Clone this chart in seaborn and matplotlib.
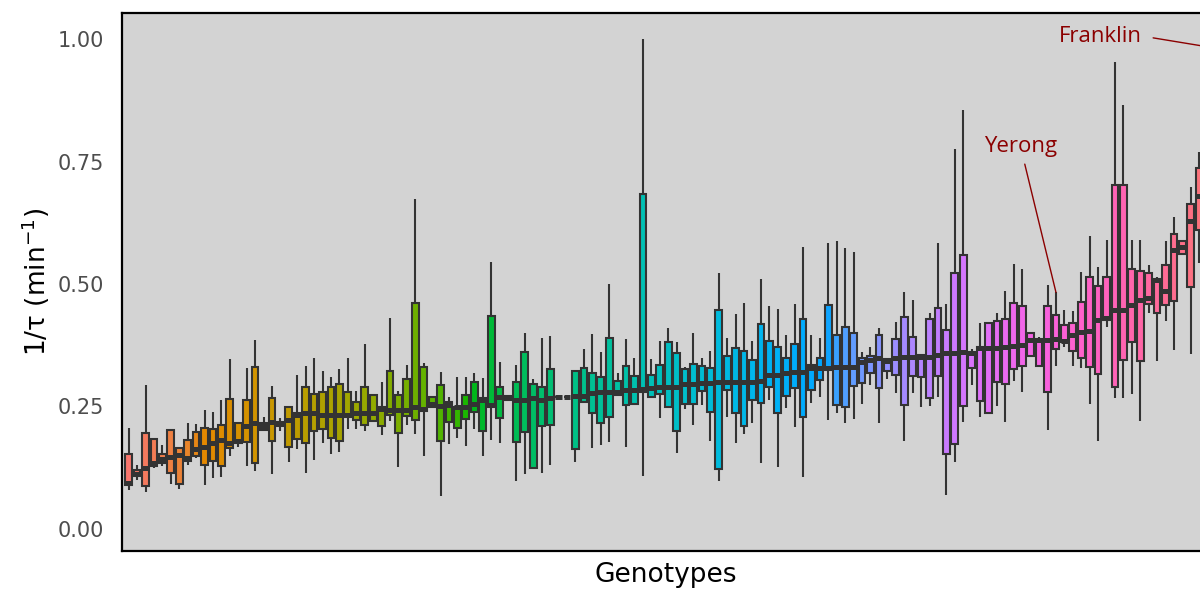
import numpy as np
import pandas as pd
import matplotlib
matplotlib.use("Agg")
import matplotlib.pyplot as plt
import seaborn as sns

# ---------------- data ----------------
whisker_low = [
    .080, .100, .075, .124, .129, .091, .081, .131, .145, .090,
    .105, .107, .148, .167, .129, .119, .203, .112, .199, .136,
    .163, .115, .141, .175, .154, .158, .205, .205, .199, .221,
    .192, .221, .127, .212, .194, .149, .250, .067, .173, .185,
    .170, .205, .149, .182, .175, .263, .097, .112, .125, .114,
    .131, .269, .270, .137, .260, .165, .171, .178, .273, .167,
    .253, .109, .270, .226, .248, .156, .244, .212, .254, .180,
    .097, .229, .176, .194, .216, .135, .263, .126, .246, .209,
    .107, .258, .270, .222, .236, .216, .224, .256, .294, .217,
    .307, .277, .180, .278, .248, .251, .269, .069, .137, .219,
    .294, .228, .237, .251, .219, .303, .280, .353, .333, .203,
    .333, .371, .333, .328, .256, .180, .412, .267, .267, .276,
    .221, .440, .343, .425, .366, .561, .357, .543, .560]
q1 = [
    .089, .108, .088, .129, .134, .115, .091, .139, .148, .131,
    .139, .129, .165, .175, .178, .134, .203, .180, .210, .168,
    .184, .176, .199, .205, .185, .180, .229, .222, .212, .221,
    .210, .233, .195, .231, .222, .241, .250, .180, .219, .207,
    .224, .239, .199, .250, .227, .263, .178, .197, .125, .210,
    .212, .269, .270, .163, .260, .237, .216, .228, .273, .253,
    .255, .280, .270, .276, .250, .201, .256, .256, .282, .238,
    .122, .284, .237, .211, .263, .258, .290, .237, .271, .288,
    .228, .284, .304, .324, .254, .248, .292, .297, .319, .287,
    .323, .314, .253, .312, .311, .267, .312, .154, .173, .251,
    .328, .262, .237, .301, .296, .326, .333, .353, .333, .280,
    .367, .382, .364, .348, .330, .316, .427, .289, .345, .382,
    .343, .459, .441, .457, .465, .561, .493, .610, .650]
median = [
    .093, .112, .124, .134, .142, .146, .151, .144, .163, .168,
    .175, .182, .176, .180, .210, .216, .210, .219, .214, .222,
    .233, .236, .236, .233, .233, .233, .233, .236, .236, .237,
    .244, .243, .243, .243, .250, .244, .256, .251, .253, .248,
    .250, .256, .263, .253, .270, .267, .263, .263, .267, .263,
    .267, .269, .270, .271, .271, .277, .280, .280, .280, .284,
    .284, .285, .287, .289, .289, .290, .295, .295, .297, .297,
    .301, .301, .301, .301, .301, .303, .314, .314, .318, .321,
    .321, .328, .328, .328, .331, .331, .331, .341, .344, .348,
    .343, .348, .352, .352, .352, .352, .355, .359, .359, .362,
    .360, .369, .369, .369, .372, .373, .376, .386, .386, .386,
    .387, .384, .396, .403, .405, .427, .430, .447, .447, .458,
    .467, .471, .509, .486, .570, .576, .629, .679, .720]
q3 = [
    .154, .120, .195, .183, .153, .202, .165, .182, .197, .207,
    .204, .212, .265, .217, .263, .330, .217, .267, .219, .248,
    .237, .289, .276, .280, .289, .296, .279, .260, .289, .273,
    .250, .323, .273, .307, .461, .330, .269, .293, .259, .250,
    .273, .301, .267, .435, .290, .271, .299, .362, .295, .290,
    .326, .269, .270, .323, .328, .318, .310, .390, .303, .333,
    .313, .684, .314, .335, .382, .360, .327, .336, .333, .329,
    .446, .353, .369, .364, .344, .418, .384, .371, .350, .377,
    .429, .335, .350, .457, .396, .412, .401, .348, .354, .396,
    .346, .387, .433, .391, .355, .428, .452, .406, .522, .559,
    .362, .371, .421, .425, .429, .462, .455, .401, .387, .455,
    .437, .416, .420, .464, .515, .495, .514, .702, .703, .530,
    .527, .522, .511, .538, .602, .588, .663, .736, .800]
whisker_high = [
    .207, .131, .293, .183, .171, .202, .165, .216, .214, .243,
    .239, .263, .346, .217, .328, .386, .229, .292, .226, .248,
    .314, .333, .348, .322, .310, .327, .350, .282, .378, .273,
    .301, .430, .282, .335, .673, .339, .269, .320, .269, .311,
    .311, .318, .309, .544, .341, .271, .335, .401, .307, .389,
    .394, .269, .270, .323, .367, .398, .362, .500, .318, .387,
    .350, 1.001, .346, .384, .411, .382, .331, .399, .350, .364,
    .522, .389, .438, .462, .384, .510, .456, .448, .395, .459,
    .575, .396, .389, .583, .588, .573, .566, .362, .371, .410,
    .346, .423, .483, .467, .355, .440, .584, .459, .775, .855,
    .367, .421, .421, .441, .486, .541, .531, .403, .391, .498,
    .483, .447, .444, .525, .598, .534, .590, .954, .865, .589,
    .589, .539, .514, .587, .636, .590, .697, .770, .984]

n = len(median)
genotypes = [f"G{i + 1:03d}" for i in range(n)]
genotypes[110] = "Yerong"
genotypes[n - 1] = "Franklin"
labelled = ["Yerong", "Franklin"]
# label placement (offset from the labelled box's top whisker) and line anchor
label_offsets = {"Yerong": (-4.2, 0.297), "Franklin": (-12.7, 0.022)}
label_relpos = {"Yerong": (0.5, 0.5), "Franklin": (1.0, 0.5)}
label_shrink = {"Yerong": 3, "Franklin": 6}


# ggplot2-style hue palette (HCL, c=100, l=65)
def hcl_colors(k, c=100.0, l=65.0):
    hues = np.linspace(15, 375, k + 1)[:-1]
    xn, yn, zn = 95.047, 100.0, 108.883
    un = 4 * xn / (xn + 15 * yn + 3 * zn)
    vn = 9 * yn / (xn + 15 * yn + 3 * zn)
    out = []
    for h in hues:
        hr = np.deg2rad(h)
        u, v = c * np.cos(hr), c * np.sin(hr)
        Y = yn * ((l + 16) / 116) ** 3
        up = u / (13 * l) + un
        vp = v / (13 * l) + vn
        X = Y * 9 * up / (4 * vp)
        Z = Y * (12 - 3 * up - 20 * vp) / (4 * vp)
        xyz = np.array([X, Y, Z]) / 100
        M = np.array([[3.2404542, -1.5371385, -0.4985314],
                      [-0.9692660, 1.8760108, 0.0415560],
                      [0.0556434, -0.2040259, 1.0572252]])
        lin = M @ xyz
        rgb = np.where(lin <= 0.0031308, 12.92 * lin,
                       1.055 * np.abs(lin) ** (1 / 2.4) - 0.055)
        out.append(tuple(np.clip(rgb, 0, 1)))
    return out


colors = hcl_colors(n)

rows = []
for g, a, b, c, d, e in zip(genotypes, whisker_low, q1, median, q3, whisker_high):
    for val in (a, b, c, d, e):
        rows.append((g, val))
df = pd.DataFrame(rows, columns=["genotype", "value"])

# ---------------- figure ----------------
W, H = 1200, 594
fig = plt.figure(figsize=(W / 100, H / 100), dpi=100)
step_px = 8.43
pad_units = 0.79
ax_w_px = (n - 1 + 2 * pad_units) * step_px
ax = fig.add_axes([122 / W, 43 / H, ax_w_px / W, 538 / H])
ax.set_facecolor("#D3D3D3")

sns.boxplot(data=df, x="genotype", y="value", hue="genotype",
            order=genotypes, hue_order=genotypes, palette=colors,
            legend=False, whis=(0, 100), width=0.8, saturation=1,
            linewidth=1.5, linecolor="#333333", showcaps=False,
            showfliers=False, medianprops={"linewidth": 3.6}, ax=ax)

ax.set_xlim(-pad_units, n - 1 + pad_units)
ax.set_ylim(-22 / 490, 516 / 490)
ax.set_xticks([])
ax.set_yticks([0, 0.25, 0.5, 0.75, 1.0])
ax.set_yticklabels(["0.00", "0.25", "0.50", "0.75", "1.00"])
ax.tick_params(axis="y", length=0, pad=13, labelsize=15, labelcolor="#4D4D4D")
for s in ax.spines.values():
    s.set_color("black")
    s.set_linewidth(1.6)

ax.set_xlabel("Genotypes", fontsize=19, color="black", labelpad=10)
ax.set_ylabel("1/τ (min$^{-1}$)", fontsize=19, color="black")
ax.yaxis.set_label_coords((52 - 122) / ax_w_px, 0.5)
ax.xaxis.set_label_coords((666 - 122) / ax_w_px, -0.02)

for name in labelled:
    i = genotypes.index(name)
    dx, dy = label_offsets[name]
    ax.annotate(name, xy=(i, whisker_high[i]),
                xytext=(i + dx, whisker_high[i] + dy),
                ha="center", va="center", fontsize=16, color="#8B0000",
                family=["Open Sans", "DejaVu Sans"],
                arrowprops=dict(arrowstyle="-", color="#8B0000", lw=1.0,
                                relpos=label_relpos[name],
                                shrinkA=label_shrink[name], shrinkB=0))

fig.savefig("out.png", dpi=100)
